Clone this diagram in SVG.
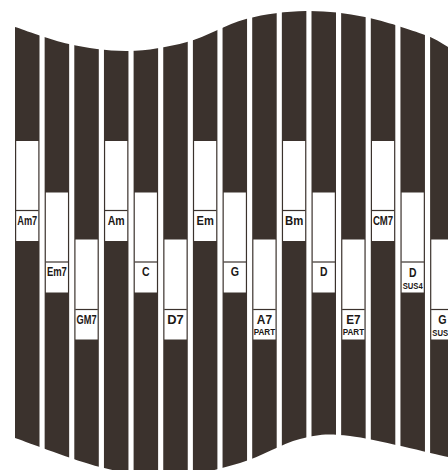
<svg xmlns="http://www.w3.org/2000/svg" width="448" height="470" viewBox="0 0 448 470">
<style>
.col{fill:#3b322d}
.box{fill:#ffffff}
.div{stroke:#3b322d;stroke-width:1.2}
.lbl{font-family:"Liberation Sans",Arial,sans-serif;font-weight:bold;font-size:13.5px;fill:#1c1816;text-anchor:middle}
.sub{font-family:"Liberation Sans",Arial,sans-serif;font-weight:bold;font-size:9.5px;fill:#1c1816;text-anchor:middle}
</style>
<defs>
<clipPath id="wave">
<path d="M8,25 L15,27 C24,29.8 50.2,40 69,44 C87.8,48 108.3,51.3 128,51 C147.7,50.7 167.3,47.3 187,42 C206.7,36.7 226.2,24.2 246,19 C265.8,13.8 286.2,11.3 306,11 C325.8,10.7 345.2,13 365,17 C384.8,21 411.2,30 425,35 C438.8,40 444.2,45 448,47 L460,53 L460,463 L448,457 C431.7,453.5 374.7,439 350,436 C325.3,433 318.3,434.5 300,439 C281.7,443.5 261.7,456.7 240,463 C218.3,469.3 193.3,476.3 170,477 C146.7,477.7 125.8,473.5 100,467 C74.2,460.5 29.2,442.8 15,438 L8,436 Z"/>
</clipPath>
</defs>
<rect width="448" height="470" fill="#ffffff"/>
<g id="stripes" clip-path="url(#wave)">
<rect class="col" x="15" y="0" width="24.5" height="480"/>
<rect class="col" x="44.65" y="0" width="24.5" height="480"/>
<rect class="col" x="74.3" y="0" width="24.5" height="480"/>
<rect class="col" x="103.95" y="0" width="24.5" height="480"/>
<rect class="col" x="133.6" y="0" width="24.5" height="480"/>
<rect class="col" x="163.25" y="0" width="24.5" height="480"/>
<rect class="col" x="192.9" y="0" width="24.5" height="480"/>
<rect class="col" x="222.55" y="0" width="24.5" height="480"/>
<rect class="col" x="252.2" y="0" width="24.5" height="480"/>
<rect class="col" x="281.85" y="0" width="24.5" height="480"/>
<rect class="col" x="311.5" y="0" width="24.5" height="480"/>
<rect class="col" x="341.15" y="0" width="24.5" height="480"/>
<rect class="col" x="370.8" y="0" width="24.5" height="480"/>
<rect class="col" x="400.45" y="0" width="24.5" height="480"/>
<rect class="col" x="430.1" y="0" width="24.5" height="480"/>
</g>
<g id="connectors"/>
<g id="chord-Am7">
<rect class="box" x="16.2" y="141" width="22.1" height="100"/>
<line class="div" x1="16" y1="210.5" x2="38.5" y2="210.5"/>
<text class="lbl" x="27.25" y="224.5" textLength="20" lengthAdjust="spacingAndGlyphs">Am7</text>
</g>
<g id="chord-Em7">
<rect class="box" x="45.85" y="192.5" width="22.1" height="100"/>
<line class="div" x1="45.65" y1="262" x2="68.15" y2="262"/>
<text class="lbl" x="56.9" y="276" textLength="20" lengthAdjust="spacingAndGlyphs">Em7</text>
</g>
<g id="chord-GM7">
<rect class="box" x="75.5" y="239.5" width="22.1" height="100"/>
<line class="div" x1="75.3" y1="309.5" x2="97.8" y2="309.5"/>
<text class="lbl" x="86.55" y="323.5" textLength="20" lengthAdjust="spacingAndGlyphs">GM7</text>
</g>
<g id="chord-Am">
<rect class="box" x="105.15" y="141" width="22.1" height="100"/>
<line class="div" x1="104.95" y1="210.5" x2="127.45" y2="210.5"/>
<text class="lbl" x="116.2" y="224.5" textLength="17" lengthAdjust="spacingAndGlyphs">Am</text>
</g>
<g id="chord-C">
<rect class="box" x="134.8" y="192.5" width="22.1" height="100"/>
<line class="div" x1="134.6" y1="262" x2="157.1" y2="262"/>
<text class="lbl" x="145.85" y="276" textLength="7.6" lengthAdjust="spacingAndGlyphs">C</text>
</g>
<g id="chord-D7">
<rect class="box" x="164.45" y="239.5" width="22.1" height="100"/>
<line class="div" x1="164.25" y1="309.5" x2="186.75" y2="309.5"/>
<text class="lbl" x="175.5" y="323.5" textLength="16.5" lengthAdjust="spacingAndGlyphs">D7</text>
</g>
<g id="chord-Em">
<rect class="box" x="194.1" y="141" width="22.1" height="100"/>
<line class="div" x1="193.9" y1="210.5" x2="216.4" y2="210.5"/>
<text class="lbl" x="205.15" y="224.5" textLength="17.3" lengthAdjust="spacingAndGlyphs">Em</text>
</g>
<g id="chord-G">
<rect class="box" x="223.75" y="192.5" width="22.1" height="100"/>
<line class="div" x1="223.55" y1="262" x2="246.05" y2="262"/>
<text class="lbl" x="234.8" y="276" textLength="8.3" lengthAdjust="spacingAndGlyphs">G</text>
</g>
<g id="chord-A7-part">
<rect class="box" x="253.4" y="239.5" width="22.1" height="100"/>
<line class="div" x1="253.2" y1="309.5" x2="275.7" y2="309.5"/>
<text class="lbl" x="264.45" y="323.5" textLength="15.3" lengthAdjust="spacingAndGlyphs">A7</text>
<text class="sub" x="264.45" y="335" textLength="21.5" lengthAdjust="spacingAndGlyphs">PART</text>
</g>
<g id="chord-Bm">
<rect class="box" x="283.05" y="141" width="22.1" height="100"/>
<line class="div" x1="282.85" y1="210.5" x2="305.35" y2="210.5"/>
<text class="lbl" x="294.1" y="224.5" textLength="18.3" lengthAdjust="spacingAndGlyphs">Bm</text>
</g>
<g id="chord-D">
<rect class="box" x="312.7" y="192.5" width="22.1" height="100"/>
<line class="div" x1="312.5" y1="262" x2="335" y2="262"/>
<text class="lbl" x="323.75" y="276" textLength="7.5" lengthAdjust="spacingAndGlyphs">D</text>
</g>
<g id="chord-E7-part">
<rect class="box" x="342.35" y="239.5" width="22.1" height="100"/>
<line class="div" x1="342.15" y1="309.5" x2="364.65" y2="309.5"/>
<text class="lbl" x="353.4" y="323.5" textLength="14.3" lengthAdjust="spacingAndGlyphs">E7</text>
<text class="sub" x="353.4" y="335" textLength="21.5" lengthAdjust="spacingAndGlyphs">PART</text>
</g>
<g id="chord-CM7">
<rect class="box" x="372" y="141" width="22.1" height="100"/>
<line class="div" x1="371.8" y1="210.5" x2="394.3" y2="210.5"/>
<text class="lbl" x="383.05" y="224.5" textLength="20.3" lengthAdjust="spacingAndGlyphs">CM7</text>
</g>
<g id="chord-Dsus4">
<rect class="box" x="401.65" y="192.5" width="22.1" height="100"/>
<line class="div" x1="401.45" y1="262" x2="423.95" y2="262"/>
<text class="lbl" x="412.7" y="276.5" textLength="7.5" lengthAdjust="spacingAndGlyphs">D</text>
<text class="sub" x="412.7" y="288.5" textLength="20" lengthAdjust="spacingAndGlyphs">SUS4</text>
</g>
<g id="chord-Gsus4">
<rect class="box" x="431.3" y="239.5" width="22.1" height="100"/>
<line class="div" x1="431.1" y1="309.5" x2="453.6" y2="309.5"/>
<text class="lbl" x="442.35" y="324" textLength="8.3" lengthAdjust="spacingAndGlyphs">G</text>
<text class="sub" x="442.35" y="336" textLength="20" lengthAdjust="spacingAndGlyphs">SUS4</text>
</g>
</svg>
